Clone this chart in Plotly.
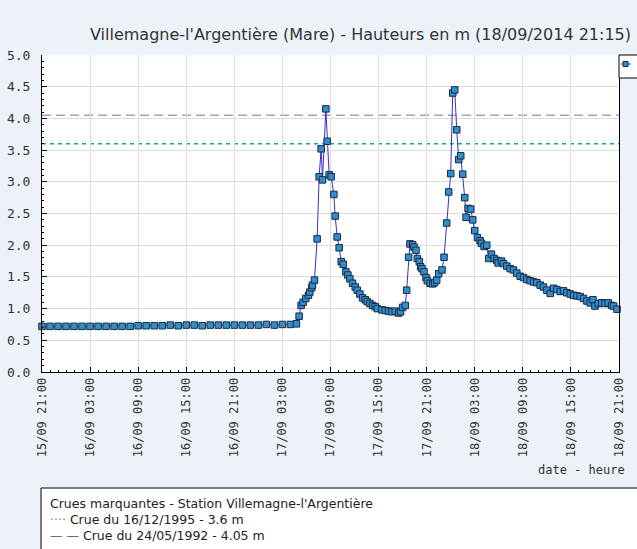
import plotly.graph_objects as go
import pandas as pd

# Hauteurs horaires en régime calme (15/09 21:00 -> 17/09 04:00)
debut_horaire = "2014-09-15 21:00"
hauteurs_calme = [
    0.72, 0.72, 0.72, 0.72, 0.72, 0.72, 0.72, 0.72, 0.72, 0.72, 0.72, 0.72,
    0.73, 0.73, 0.73, 0.73, 0.74, 0.73, 0.74, 0.74, 0.73, 0.74, 0.74, 0.74,
    0.74, 0.74, 0.74, 0.74, 0.75, 0.74, 0.75, 0.75,
]

# Relevés pendant les crues (pas de temps variable)
horodatage_crue = [
    "2014-09-17 04:45", "2014-09-17 05:05", "2014-09-17 05:20", "2014-09-17 05:35",
    "2014-09-17 05:55", "2014-09-17 06:15", "2014-09-17 06:25", "2014-09-17 06:40",
    "2014-09-17 06:45", "2014-09-17 07:00", "2014-09-17 07:20", "2014-09-17 07:35",
    "2014-09-17 07:50", "2014-09-17 08:00", "2014-09-17 08:25", "2014-09-17 08:35",
    "2014-09-17 08:50", "2014-09-17 09:05", "2014-09-17 09:25", "2014-09-17 09:35",
    "2014-09-17 09:50", "2014-09-17 10:05", "2014-09-17 10:20", "2014-09-17 10:35",
    "2014-09-17 10:55", "2014-09-17 11:10", "2014-09-17 11:25", "2014-09-17 11:45",
    "2014-09-17 12:05", "2014-09-17 12:20", "2014-09-17 12:40", "2014-09-17 13:00",
    "2014-09-17 13:20", "2014-09-17 13:35", "2014-09-17 13:55", "2014-09-17 14:15",
    "2014-09-17 14:35", "2014-09-17 14:50", "2014-09-17 15:25", "2014-09-17 15:50",
    "2014-09-17 16:15", "2014-09-17 16:40", "2014-09-17 17:05", "2014-09-17 17:30",
    "2014-09-17 17:45", "2014-09-17 18:00", "2014-09-17 18:20", "2014-09-17 18:30",
    "2014-09-17 18:45", "2014-09-17 18:55", "2014-09-17 19:15", "2014-09-17 19:25",
    "2014-09-17 19:40", "2014-09-17 19:50", "2014-09-17 20:05", "2014-09-17 20:15",
    "2014-09-17 20:25", "2014-09-17 20:40", "2014-09-17 20:55", "2014-09-17 21:05",
    "2014-09-17 21:25", "2014-09-17 21:45", "2014-09-17 22:00", "2014-09-17 22:15",
    "2014-09-17 22:30", "2014-09-17 22:55", "2014-09-17 23:10", "2014-09-17 23:30",
    "2014-09-17 23:45", "2014-09-18 00:00", "2014-09-18 00:15", "2014-09-18 00:30",
    "2014-09-18 00:45", "2014-09-18 01:00", "2014-09-18 01:15", "2014-09-18 01:30",
    "2014-09-18 01:45", "2014-09-18 01:55", "2014-09-18 02:10", "2014-09-18 02:30",
    "2014-09-18 02:45", "2014-09-18 03:00", "2014-09-18 03:20", "2014-09-18 03:40",
    "2014-09-18 03:50", "2014-09-18 04:10", "2014-09-18 04:30", "2014-09-18 04:45",
    "2014-09-18 05:05", "2014-09-18 05:25", "2014-09-18 05:45", "2014-09-18 05:55",
    "2014-09-18 06:20", "2014-09-18 06:35", "2014-09-18 07:00", "2014-09-18 07:25",
    "2014-09-18 07:50", "2014-09-18 08:15", "2014-09-18 08:40", "2014-09-18 09:05",
    "2014-09-18 09:30", "2014-09-18 09:55", "2014-09-18 10:20", "2014-09-18 10:45",
    "2014-09-18 11:10", "2014-09-18 11:35", "2014-09-18 12:00", "2014-09-18 12:25",
    "2014-09-18 12:50", "2014-09-18 13:15", "2014-09-18 13:40", "2014-09-18 14:05",
    "2014-09-18 14:30", "2014-09-18 14:55", "2014-09-18 15:20", "2014-09-18 15:45",
    "2014-09-18 16:10", "2014-09-18 16:35", "2014-09-18 17:00", "2014-09-18 17:25",
    "2014-09-18 17:45", "2014-09-18 18:00", "2014-09-18 18:25", "2014-09-18 18:50",
    "2014-09-18 19:15", "2014-09-18 19:40", "2014-09-18 20:05", "2014-09-18 20:20",
    "2014-09-18 20:45",
]
hauteurs_crue = [
    0.76, 0.88, 1.05, 1.10, 1.16, 1.21, 1.26, 1.33,
    1.37, 1.45, 2.10, 3.08, 3.52, 3.03, 4.15, 3.64,
    3.11, 3.08, 2.80, 2.46, 2.13, 1.96, 1.74, 1.70,
    1.58, 1.53, 1.47, 1.40, 1.34, 1.29, 1.23, 1.17,
    1.14, 1.11, 1.08, 1.05, 1.03, 1.00, 0.98, 0.97,
    0.96, 0.95, 0.96, 0.93, 0.95, 1.02, 1.05, 1.29,
    1.81, 2.02, 2.01, 1.97, 1.92, 1.79, 1.74, 1.66,
    1.63, 1.58, 1.49, 1.44, 1.40, 1.39, 1.41, 1.45,
    1.55, 1.61, 1.81, 2.35, 2.84, 3.13, 4.40, 4.45,
    3.82, 3.35, 3.41, 3.12, 2.75, 2.44, 2.58, 2.57,
    2.40, 2.23, 2.12, 2.07, 2.03, 1.98, 2.00, 1.79,
    1.86, 1.79, 1.76, 1.72, 1.75, 1.71, 1.67, 1.63,
    1.61, 1.56, 1.51, 1.49, 1.46, 1.44, 1.42, 1.41,
    1.37, 1.34, 1.29, 1.24, 1.32, 1.30, 1.27, 1.28,
    1.25, 1.23, 1.21, 1.20, 1.19, 1.16, 1.12, 1.09,
    1.14, 1.04, 1.08, 1.09, 1.08, 1.09, 1.05, 1.04,
    0.99,
]

# Crues de référence
crue_1995 = 3.6
crue_1992 = 4.05

titre = "Villemagne-l'Argentière (Mare) - Hauteurs en m (18/09/2014 21:15)"
legende_titre = "Crues marquantes - Station Villemagne-l'Argentière"
legende_1995 = "Crue du 16/12/1995 - 3.6 m"
legende_1992 = "Crue du 24/05/1992 - 4.05 m"

temps = list(pd.date_range(debut_horaire, periods=len(hauteurs_calme), freq="h")) + \
    list(pd.to_datetime(horodatage_crue))
hauteurs = hauteurs_calme + hauteurs_crue

W, H = 637, 549
L, R, T, B = 42, 619, 55, 372
mono = "DejaVu Sans Mono"
sans = "DejaVu Sans"
c_ligne = "#3a2cd0"
c_point = "#2f8fcc"
c_bord = "#1b2a44"


def px(x):
    return (x - L) / (R - L)


def py(y):
    return (B - y) / (B - T)


fig = go.Figure()
fig.add_trace(go.Scatter(
    x=temps, y=hauteurs, mode="lines+markers",
    line=dict(color=c_ligne, width=1),
    marker=dict(symbol="square", size=6.5, color=c_point,
                line=dict(color=c_bord, width=1)),
    showlegend=False, cliponaxis=False,
))

shapes = [
    dict(type="line", xref="paper", yref="y", x0=0, x1=1, y0=crue_1992, y1=crue_1992,
         line=dict(color="#a89cc4", width=1.3, dash="9px,5px"), layer="below"),
    dict(type="line", xref="paper", yref="y", x0=0, x1=1, y0=crue_1995, y1=crue_1995,
         line=dict(color="#0ea5b5", width=1.3, dash="4px,4px"), layer="below"),
    # cartouche de la série (coin haut droit)
    dict(type="rect", xref="paper", yref="paper", x0=px(619), x1=px(700), y0=py(78), y1=py(55),
         line=dict(color="black", width=1), fillcolor="white"),
    dict(type="line", xref="paper", yref="paper", x0=px(621), x1=px(631), y0=py(64), y1=py(64),
         line=dict(color=c_ligne, width=1)),
    dict(type="rect", xref="paper", yref="paper", x0=px(623), x1=px(628), y0=py(66.5), y1=py(61.5),
         line=dict(color=c_bord, width=1), fillcolor=c_point),
    # cadre de la légende des crues marquantes
    dict(type="rect", xref="paper", yref="paper", x0=px(41), x1=px(700), y0=py(600), y1=py(488),
         line=dict(color="black", width=1), fillcolor="white"),
]

annotations = [
    dict(text=titre, xref="paper", yref="paper", x=px(88), y=py(35), xanchor="left",
         yanchor="middle", showarrow=False, font=dict(family=sans, size=16, color="#333333")),
    dict(text="date - heure", xref="paper", yref="paper", x=px(627), y=py(470), xanchor="right",
         yanchor="middle", showarrow=False, font=dict(family=mono, size=12, color="#333333")),
    dict(text=legende_titre, xref="paper", yref="paper", x=px(48), y=py(503), xanchor="left",
         yanchor="middle", showarrow=False, font=dict(family=sans, size=12.5, color="#222222")),
    dict(text="<span style='color:#8a8a9a'>····</span> " + legende_1995, xref="paper", yref="paper",
         x=px(48), y=py(519), xanchor="left", yanchor="middle", showarrow=False,
         font=dict(family=sans, size=12.5, color="#222222")),
    dict(text="<span style='color:#6a6a7a'>— —</span> " + legende_1992, xref="paper", yref="paper",
         x=px(48), y=py(535), xanchor="left", yanchor="middle", showarrow=False,
         font=dict(family=sans, size=12.5, color="#222222")),
]

fig.update_layout(
    width=W, height=H,
    margin=dict(l=L, r=W - R, t=T, b=H - B, pad=0, autoexpand=False),
    paper_bgcolor="#edf1f8", plot_bgcolor="white",
    shapes=shapes, annotations=annotations,
    showlegend=False,
)
fig.update_xaxes(
    type="date", range=["2014-09-15 21:00", "2014-09-18 21:00"], automargin=False,
    tick0="2014-09-15 21:00", dtick=6 * 3600 * 1000, tickformat="%d/%m %H:%M",
    tickangle=-90, tickfont=dict(family=mono, size=12, color="#333333"),
    ticks="inside", ticklen=5, tickcolor="black",
    minor=dict(dtick=3600 * 1000, ticks="inside", ticklen=2, tickcolor="black", showgrid=False),
    showgrid=True, gridcolor="#dcdcdc", gridwidth=1,
    showline=True, linecolor="black", linewidth=1, mirror=False, zeroline=False,
)
fig.update_yaxes(
    range=[0, 5], dtick=0.5, tick0=0, tickformat=".1f", automargin=False,
    tickfont=dict(family=mono, size=13, color="#333333"), ticklabelstandoff=8,
    ticks="inside", ticklen=5, tickcolor="black",
    minor=dict(dtick=0.1, ticks="inside", ticklen=2, tickcolor="black", showgrid=False),
    showgrid=True, gridcolor="#dcdcdc", gridwidth=1,
    showline=True, linecolor="black", linewidth=1, mirror=True, zeroline=False,
)

fig.write_html("out.html")
